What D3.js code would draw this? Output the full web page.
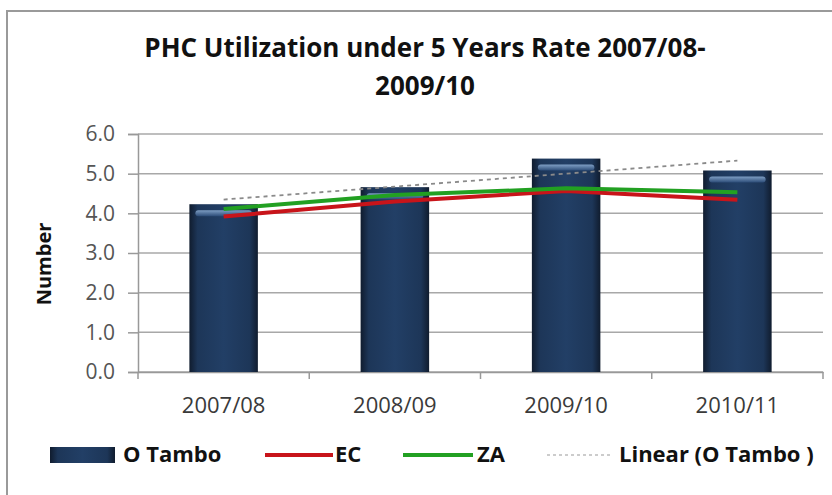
<!DOCTYPE html>
<meta charset="utf-8">
<style>
body{margin:0;background:#fff;}
svg text{font-family:"Open Sans",sans-serif;}
.ytick text{font-size:21px;fill:#555;}
.xtick text{font-size:22px;fill:#3a3a3a;}
</style>
<svg id="chart" width="832" height="495"></svg>
<script src="https://cdnjs.cloudflare.com/ajax/libs/d3/7.8.5/d3.min.js"></script>
<script>
// data
const categories = ['2007/08', '2008/09', '2009/10', '2010/11']
const oTambo = [4.23, 4.66, 5.38, 5.08]
const ec = [3.92, 4.30, 4.56, 4.34]
const za = [4.11, 4.46, 4.63, 4.53]
const yTicks = [0, 1, 2, 3, 4, 5, 6]
const titleLines = ['PHC Utilization under 5 Years Rate 2007/08-', '2009/10']
const legendNames = ['O Tambo', 'EC', 'ZA', 'Linear (O Tambo )']

const svg = d3.select('#chart')
const plot = {left: 138, right: 823, top: 134, bottom: 372}

// chart frame
svg.append('rect')
  .attr('x', 7).attr('y', 11).attr('width', 840).attr('height', 500)
  .attr('fill', '#fff').attr('stroke', '#9a9a9a').attr('stroke-width', 2)

// gradients for the bars
const defs = svg.append('defs')
const barGrad = defs.append('linearGradient').attr('id', 'barGrad')
  .attr('x1', 0).attr('x2', 1).attr('y1', 0).attr('y2', 0)
barGrad.append('stop').attr('offset', '0%').attr('stop-color', '#101c2e')
barGrad.append('stop').attr('offset', '12%').attr('stop-color', '#1d3658')
barGrad.append('stop').attr('offset', '50%').attr('stop-color', '#223f66')
barGrad.append('stop').attr('offset', '88%').attr('stop-color', '#1d3658')
barGrad.append('stop').attr('offset', '100%').attr('stop-color', '#101c2e')
const hiGrad = defs.append('linearGradient').attr('id', 'hiGrad')
  .attr('x1', 0).attr('x2', 0).attr('y1', 0).attr('y2', 1)
hiGrad.append('stop').attr('offset', '0%').attr('stop-color', '#8fb0d6')
hiGrad.append('stop').attr('offset', '100%').attr('stop-color', '#2e4f7c')

// title
svg.append('g').selectAll('text').data(titleLines).enter().append('text')
  .attr('x', 425)
  .attr('y', (d, i) => 57 + i * 38)
  .attr('text-anchor', 'middle')
  .style('font-size', '26px').style('font-weight', 'bold').style('fill', '#111')
  .text(d => d)

// scales
const x = d3.scaleBand().domain(categories)
  .range([plot.left, plot.right]).paddingInner(0.6).paddingOuter(0.3)
const y = d3.scaleLinear().domain([0, 6]).range([plot.bottom, plot.top])
const cx = c => x(c) + x.bandwidth() / 2

// gridlines
svg.append('g').selectAll('line').data(yTicks).enter().append('line')
  .attr('x1', plot.left).attr('x2', plot.right)
  .attr('y1', d => y(d)).attr('y2', d => y(d))
  .attr('stroke', '#a8a8a8').attr('stroke-width', 1.5)

// y axis
const yAxis = svg.append('g').attr('class', 'ytick')
  .attr('transform', `translate(${plot.left},0)`)
  .call(d3.axisLeft(y).tickValues(yTicks).tickFormat(d3.format('.1f')).tickSizeOuter(0).tickSize(10).tickPadding(13))
yAxis.select('.domain').attr('stroke', '#999').attr('stroke-width', 1.5)
yAxis.selectAll('.tick line').attr('stroke', '#999').attr('stroke-width', 1.5)

// x axis: ticks sit on band boundaries
const xAxis = svg.append('g').attr('class', 'xtick')
  .attr('transform', `translate(0,${plot.bottom})`)
  .call(d3.axisBottom(x).tickSize(0).tickPadding(25))
xAxis.select('.domain').attr('stroke', '#999').attr('stroke-width', 1.5)
const step = x.step()
const bounds = d3.range(categories.length + 1).map(i => plot.left + i * step)
xAxis.selectAll('line.bound').data(bounds).enter().append('line')
  .attr('class', 'bound')
  .attr('x1', d => d).attr('x2', d => d).attr('y1', 0).attr('y2', 7)
  .attr('stroke', '#999').attr('stroke-width', 1.5)

// y axis title
svg.append('text')
  .attr('transform', 'translate(51,264) rotate(-90)')
  .attr('text-anchor', 'middle')
  .style('font-size', '20px').style('font-weight', 'bold').style('fill', '#111')
  .text('Number')

// bars
const bars = svg.append('g').selectAll('g').data(oTambo).enter().append('g')
bars.append('rect')
  .attr('x', (d, i) => x(categories[i]))
  .attr('y', d => y(d))
  .attr('width', x.bandwidth())
  .attr('height', d => y(0) - y(d))
  .attr('fill', 'url(#barGrad)')
bars.append('rect')
  .attr('x', (d, i) => x(categories[i]) + 6)
  .attr('y', d => y(d) + 6)
  .attr('width', x.bandwidth() - 12)
  .attr('height', 6).attr('rx', 3)
  .attr('fill', 'url(#hiGrad)').attr('opacity', 0.85)

// linear trend of O Tambo (least squares)
const xs = oTambo.map((d, i) => i + 1)
const mx = d3.mean(xs), my = d3.mean(oTambo)
const slope = d3.sum(xs, (v, i) => (v - mx) * (oTambo[i] - my)) / d3.sum(xs, v => (v - mx) ** 2)
const trend = xs.map(v => my + slope * (v - mx))

const line = d3.line().x((d, i) => cx(categories[i])).y(d => y(d))
svg.append('path').datum(trend).attr('d', line)
  .attr('fill', 'none').attr('stroke', '#8a8a8a').attr('stroke-width', 1.8)
  .attr('stroke-dasharray', '4,4')
svg.append('path').datum(ec).attr('d', line)
  .attr('fill', 'none').attr('stroke', '#c8141a').attr('stroke-width', 4)
svg.append('path').datum(za).attr('d', line)
  .attr('fill', 'none').attr('stroke', '#22a022').attr('stroke-width', 4)

// legend
const leg = svg.append('g').attr('transform', 'translate(0,455)')
const legX = [50, 265, 403, 547]
const legW = [65, 68, 70, 65]
const legText = [123, 335, 477, 619]
leg.append('rect').attr('x', legX[0]).attr('y', -8).attr('width', legW[0]).attr('height', 16)
  .attr('fill', 'url(#barGrad)')
leg.append('line').attr('x1', legX[1]).attr('x2', legX[1] + legW[1]).attr('y1', 0).attr('y2', 0)
  .attr('stroke', '#c8141a').attr('stroke-width', 4)
leg.append('line').attr('x1', legX[2]).attr('x2', legX[2] + legW[2]).attr('y1', 0).attr('y2', 0)
  .attr('stroke', '#22a022').attr('stroke-width', 4)
leg.append('line').attr('x1', legX[3]).attr('x2', legX[3] + legW[3]).attr('y1', 0).attr('y2', 0)
  .attr('stroke', '#999').attr('stroke-width', 1.2).attr('stroke-dasharray', '3,3')
leg.selectAll('text').data(legendNames).enter().append('text')
  .attr('x', (d, i) => legText[i]).attr('y', 7)
  .style('font-size', '22px').style('font-weight', 'bold').style('fill', '#111')
  .text(d => d)
</script>
